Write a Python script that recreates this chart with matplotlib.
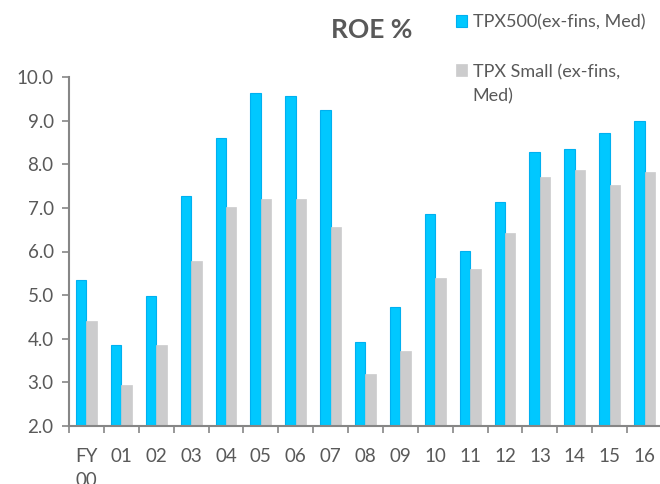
import numpy as np
import matplotlib
matplotlib.use("Agg")
import matplotlib.pyplot as plt

plt.rcParams['font.family'] = ['Lato', 'DejaVu Sans']

# fiscal years
years = ["FY\n00", "01", "02", "03", "04", "05", "06", "07", "08",
         "09", "10", "11", "12", "13", "14", "15", "16"]

# median ROE (%)
tpx500 = [5.34, 3.86, 4.99, 7.28, 8.60, 9.64, 9.56, 9.25, 3.92,
          4.73, 6.87, 6.01, 7.14, 8.27, 8.34, 8.72, 9.00]
tpx_small = [4.40, 2.93, 3.86, 5.78, 7.03, 7.20, 7.20, 6.56, 3.20,
             3.73, 5.39, 5.59, 6.43, 7.70, 7.86, 7.53, 7.83]

labels = ["TPX500(ex-fins, Med)", "TPX Small (ex-fins,\nMed)"]

BLUE = "#00C8FF"
BLUE_EDGE = "#00B0F0"
GREY = "#CCCCCD"
TXT = "#595959"
AXC = "#868686"

fig = plt.figure(figsize=(6.6, 4.84), dpi=100)
ax = fig.add_axes([69 / 660, 58 / 484, 593 / 660, 349 / 484])

x = np.arange(len(years))
w = 0.3
b1 = ax.bar(x - w / 2, np.array(tpx500) - 2.0, w, bottom=2.0,
            color=BLUE, edgecolor=BLUE_EDGE, linewidth=0.8, label=labels[0])
b2 = ax.bar(x + w / 2, np.array(tpx_small) - 2.0, w, bottom=2.0,
            color=GREY, edgecolor=GREY, linewidth=0.5, label=labels[1])

ax.set_ylim(2.0, 10.0)
ax.set_xlim(-0.5, len(years) - 0.5)
ax.set_yticks(np.arange(2.0, 10.01, 1.0))
ax.set_yticklabels([f"{v:.1f}" for v in np.arange(2.0, 10.01, 1.0)])

# labels at category centres, ticks at category boundaries
ax.set_xticks(x)
ax.set_xticklabels(years)
ax.set_xticks(np.arange(-0.5, len(years), 1.0), minor=True)
ax.tick_params(axis="x", which="major", length=0, pad=16)
ax.tick_params(axis="x", which="minor", length=5, width=1.2, color=AXC)
ax.tick_params(axis="y", length=5, width=1.2, color=AXC, pad=6)
ax.tick_params(labelsize=13.5, labelcolor=TXT)
for t in ax.get_xticklabels():
    t.set_linespacing(1.45)

for s in ["top", "right"]:
    ax.spines[s].set_visible(False)
for s in ["left", "bottom"]:
    ax.spines[s].set_color(AXC)
    ax.spines[s].set_linewidth(1.5)

fig.text(372 / 660, 1 - 30 / 484, "ROE %", ha="center", va="center",
         fontsize=19, fontweight="bold", color=TXT)

leg = fig.legend(handles=[b1, b2], labels=labels, loc="upper left",
                 bbox_to_anchor=(443 / 660, 1 - 2 / 484), frameon=False,
                 fontsize=13, labelcolor=TXT, handlelength=0.65,
                 handleheight=0.65, handletextpad=0.3, labelspacing=1.85,
                 borderpad=0.2)
for t in leg.get_texts():
    t.set_linespacing(1.6)
# put the marker next to the first line of a wrapped label
for col in leg._legend_handle_box.get_children():
    for row in col.get_children():
        row.align = "top"

fig.savefig("out.png", dpi=100)
